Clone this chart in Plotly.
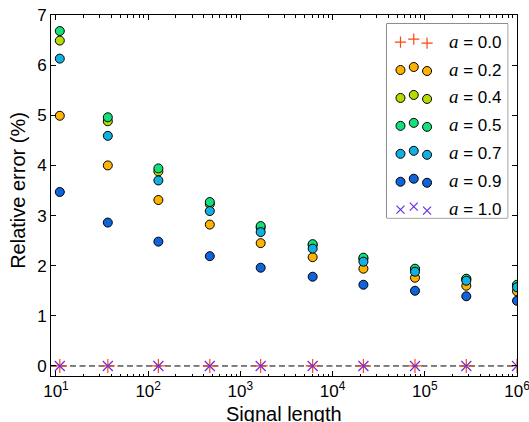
import plotly.graph_objects as go

# Signal lengths (samples) and relative error (%) for each value of a
signal_length = [11, 36.5, 129, 466, 1660, 6080, 21600, 78300, 282000, 1000000]
err_a00 = [0, 0, 0, 0, 0, 0, 0, 0, 0, 0]
err_a02 = [4.99, 4.00, 3.31, 2.82, 2.45, 2.17, 1.94, 1.76, 1.60, 1.49]
err_a04 = [6.49, 4.88, 3.88, 3.23, 2.76, 2.41, 2.14, 1.92, 1.73, 1.60]
err_a05 = [6.68, 4.96, 3.94, 3.27, 2.79, 2.43, 2.16, 1.94, 1.74, 1.62]
err_a07 = [6.13, 4.59, 3.70, 3.09, 2.67, 2.34, 2.08, 1.88, 1.70, 1.57]
err_a09 = [3.47, 2.86, 2.48, 2.19, 1.96, 1.78, 1.62, 1.50, 1.39, 1.30]
err_a10 = [0, 0, 0, 0, 0, 0, 0, 0, 0, 0]

a_labels = ["0.0", "0.2", "0.4", "0.5", "0.7", "0.9", "1.0"]
x_tick_vals = [1e1, 1e2, 1e3, 1e4, 1e5, 1e6]
x_tick_text = ["10<sup>1</sup>", "10<sup>2</sup>", "10<sup>3</sup>",
               "10<sup>4</sup>", "10<sup>5</sup>", "10<sup>6</sup>"]

series = [
    (err_a00, "#ff4513", "cross-thin"),
    (err_a02, "#ffb300", "circle"),
    (err_a04, "#b5dc00", "circle"),
    (err_a05, "#12e07a", "circle"),
    (err_a07, "#12b0e0", "circle"),
    (err_a09, "#0f64dc", "circle"),
    (err_a10, "#6a2ee0", "x-thin"),
]

FONT = "Liberation Sans, Arial, Helvetica, sans-serif"


def marker_style(color, symbol, cross_size=10):
    if symbol == "circle":
        return dict(symbol="circle", size=9, color=color,
                    line=dict(color="black", width=1))
    return dict(symbol=symbol, size=cross_size, color=color,
                line=dict(color=color, width=1.2))


fig = go.Figure()

# main scatter series
for vals, color, symbol in series:
    fig.add_trace(go.Scatter(
        x=signal_length, y=vals, mode="markers",
        marker=marker_style(color, symbol),
        showlegend=False, hoverinfo="skip", xaxis="x", yaxis="y",
    ))

# hand-built legend box (three markers per entry) on its own small axes
leg_marker_x = [13.7, 27.0, 40.3]
leg_marker_dy = [1.0, -2.0, 2.0]
row0, row_step = 17.4, 27.9
for i, (vals, color, symbol) in enumerate(series):
    yrow = row0 + row_step * i
    fig.add_trace(go.Scatter(
        x=leg_marker_x, y=[yrow + d for d in leg_marker_dy], mode="markers",
        marker=marker_style(color, symbol, cross_size=8),
        showlegend=False, hoverinfo="skip", xaxis="x2", yaxis="y2",
        cliponaxis=False,
    ))
    fig.add_annotation(
        x=60, y=yrow, xref="x2", yref="y2", xanchor="left", yanchor="middle",
        showarrow=False,
        text=("<span style=\"font-family:'Liberation Serif','DejaVu Serif',serif;"
              "font-style:italic;font-size:19px\">a</span> = " + a_labels[i]),
        font=dict(family=FONT, size=17, color="black"),
    )

fig.add_shape(type="rect", xref="x2 domain", yref="y2 domain",
              x0=0, x1=1, y0=0, y1=1, layer="below",
              line=dict(color="#333333", width=1), fillcolor="white")

# dashed zero reference line
fig.add_shape(type="line", xref="x domain", yref="y", x0=0, x1=1, y0=0, y1=0,
              layer="below", line=dict(color="black", width=1, dash="6px,3.5px"))

axis_common = dict(
    showgrid=False, zeroline=False, showline=True, linecolor="black",
    linewidth=1, mirror="allticks", ticks="inside", ticklen=5,
    tickcolor="black", tickwidth=1,
    tickfont=dict(family=FONT, size=17, color="black"),
    ticklabeloverflow="allow", automargin=False,
)

fig.update_layout(
    width=529, height=422,
    margin=dict(l=51, r=12, t=15, b=46),
    paper_bgcolor="white", plot_bgcolor="white",
    showlegend=False,
    xaxis=dict(type="log", range=[0.946, 6.0001], tickvals=x_tick_vals,
               ticktext=x_tick_text,
               minor=dict(ticks="inside", ticklen=2.5, tickcolor="black",
                          dtick="D1", showgrid=False),
               **axis_common),
    yaxis=dict(range=[-0.2, 7], dtick=1, tick0=0, **axis_common),
    xaxis2=dict(domain=[0.7206, 0.980], range=[0, 121], visible=False,
                fixedrange=True, anchor="y2"),
    yaxis2=dict(domain=[0.438, 0.976], range=[194, 0], visible=False,
                fixedrange=True, anchor="x2"),
)

# axis titles
fig.add_annotation(text="Signal length", x=0.5, y=-0.105, xref="paper",
                   yref="paper", xanchor="center", yanchor="middle",
                   showarrow=False, font=dict(family=FONT, size=20, color="black"))
fig.add_annotation(text="Relative error (%)", x=-0.07, y=0.514, xref="paper",
                   yref="paper", xanchor="center", yanchor="middle",
                   textangle=-90, showarrow=False,
                   font=dict(family=FONT, size=20, color="black"))

fig.write_html("out.html")
